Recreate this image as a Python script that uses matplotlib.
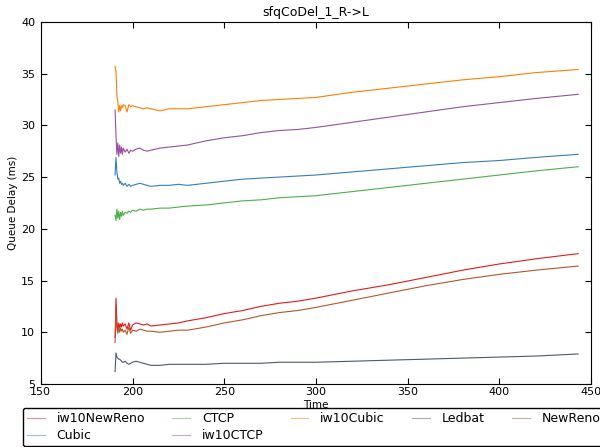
import matplotlib
matplotlib.use("Agg")
import matplotlib.pyplot as plt

time = [190.5, 191, 191.5, 192, 192.5, 193, 193.5, 194, 194.5, 195, 196, 197, 198, 199, 200,
        202, 204, 206, 208, 210, 215, 220, 225, 230, 240, 250, 260, 270, 280, 290, 300,
        320, 340, 360, 380, 400, 420, 443]

iw10NewReno = [9.5, 13.3, 11.0, 10.2, 10.9, 10.4, 10.8, 10.5, 10.9, 10.6, 10.8, 10.3, 10.9, 10.2, 10.7,
               10.9, 10.8, 10.7, 10.8, 10.6, 10.7, 10.8, 10.9, 11.1, 11.4, 11.8, 12.1, 12.5, 12.8, 13.0, 13.3,
               14.0, 14.6, 15.3, 16.0, 16.6, 17.1, 17.6]
Cubic = [25.2, 26.9, 25.5, 24.8, 24.9, 24.4, 24.6, 24.3, 24.4, 24.2, 24.4, 24.1, 24.3, 24.1, 24.2,
         24.3, 24.4, 24.3, 24.2, 24.1, 24.2, 24.2, 24.3, 24.2, 24.4, 24.6, 24.8, 24.9, 25.0, 25.1, 25.2,
         25.5, 25.8, 26.1, 26.4, 26.6, 26.9, 27.2]
CTCP = [21.3, 20.8, 21.9, 21.0, 21.7, 20.9, 21.6, 21.2, 21.7, 21.3, 21.6, 21.5, 21.7, 21.6, 21.8,
        21.7, 21.9, 21.8, 21.9, 21.9, 22.0, 22.0, 22.1, 22.2, 22.3, 22.5, 22.7, 22.8, 23.0, 23.1, 23.2,
        23.6, 24.0, 24.4, 24.8, 25.2, 25.6, 26.0]
iw10CTCP = [31.5, 29.0, 27.2, 28.3, 27.0, 28.1, 27.3, 27.9, 27.2, 27.8, 27.4, 27.7, 27.3, 27.6, 27.5,
            27.7, 27.8, 27.6, 27.5, 27.6, 27.8, 27.9, 28.0, 28.1, 28.5, 28.8, 29.0, 29.3, 29.5, 29.6, 29.8,
            30.3, 30.8, 31.3, 31.8, 32.2, 32.6, 33.0]
iw10Cubic = [35.7, 35.2, 32.8, 32.3, 31.3, 31.9, 31.4, 31.9, 31.7, 32.0, 31.9, 31.3, 32.0, 31.8, 31.9,
             31.8, 31.7, 31.6, 31.7, 31.6, 31.4, 31.6, 31.6, 31.6, 31.8, 32.0, 32.2, 32.4, 32.5, 32.6, 32.7,
             33.2, 33.6, 34.0, 34.4, 34.7, 35.1, 35.4]
Ledbat = [6.2, 8.0, 7.6, 7.5, 7.4, 7.4, 7.3, 7.2, 7.1, 7.1, 7.2, 7.0, 6.9, 7.0, 7.1,
          7.2, 7.1, 7.0, 6.9, 6.8, 6.8, 6.9, 6.9, 6.9, 6.9, 7.0, 7.0, 7.0, 7.1, 7.1, 7.1,
          7.2, 7.3, 7.4, 7.5, 7.6, 7.7, 7.9]
NewReno = [9.0, 12.0, 10.3, 9.9, 10.5, 10.0, 10.4, 10.1, 10.3, 10.0, 10.2, 9.8, 10.5, 9.9, 10.2,
           10.1, 10.3, 10.2, 10.1, 10.1, 10.0, 10.1, 10.2, 10.2, 10.5, 10.9, 11.2, 11.6, 11.9, 12.1, 12.4,
           13.1, 13.8, 14.5, 15.1, 15.6, 16.0, 16.4]

series = [("iw10NewReno", iw10NewReno, "#e41a1c"),
          ("Cubic", Cubic, "#377eb8"),
          ("CTCP", CTCP, "#4daf4a"),
          ("iw10CTCP", iw10CTCP, "#984ea3"),
          ("iw10Cubic", iw10Cubic, "#ff7f00"),
          ("Ledbat", Ledbat, "#4b5a6b"),
          ("NewReno", NewReno, "#b5562a")]

fig = plt.figure(figsize=(6.0, 4.47), dpi=100)
ax = fig.add_axes([0.068, 0.141, 0.917, 0.810])
for name, vals, col in series:
    ax.plot(time, vals, color=col, lw=0.8, label=name)

ax.set_xlim(150, 450)
ax.set_ylim(5, 40)
ax.set_xticks([150, 200, 250, 300, 350, 400, 450])
ax.set_yticks([5, 10, 15, 20, 25, 30, 35, 40])
ax.tick_params(direction="in", top=True, right=True, labelsize=8, length=4)
ax.tick_params(axis="x", pad=2)
ax.tick_params(axis="y", pad=4)
ax.set_xlabel("Time", fontsize=7.5, labelpad=2)
ax.set_ylabel("Queue Delay (ms)", fontsize=7.5, labelpad=2)
ax.set_title("sfqCoDel_1_R->L", fontsize=9, pad=4)

leg = ax.legend(loc="upper left", bbox_to_anchor=(-0.033, -0.066), ncol=5,
                fontsize=9, frameon=True, fancybox=True, handlelength=1.4,
                columnspacing=2.2, borderaxespad=0, handletextpad=0.95,
                labelspacing=0.3, borderpad=0.35, framealpha=1.0)
for h in leg.get_lines():
    h.set_alpha(0.5)
leg.get_frame().set_edgecolor("black")

fig.savefig("out.png", dpi=100)
